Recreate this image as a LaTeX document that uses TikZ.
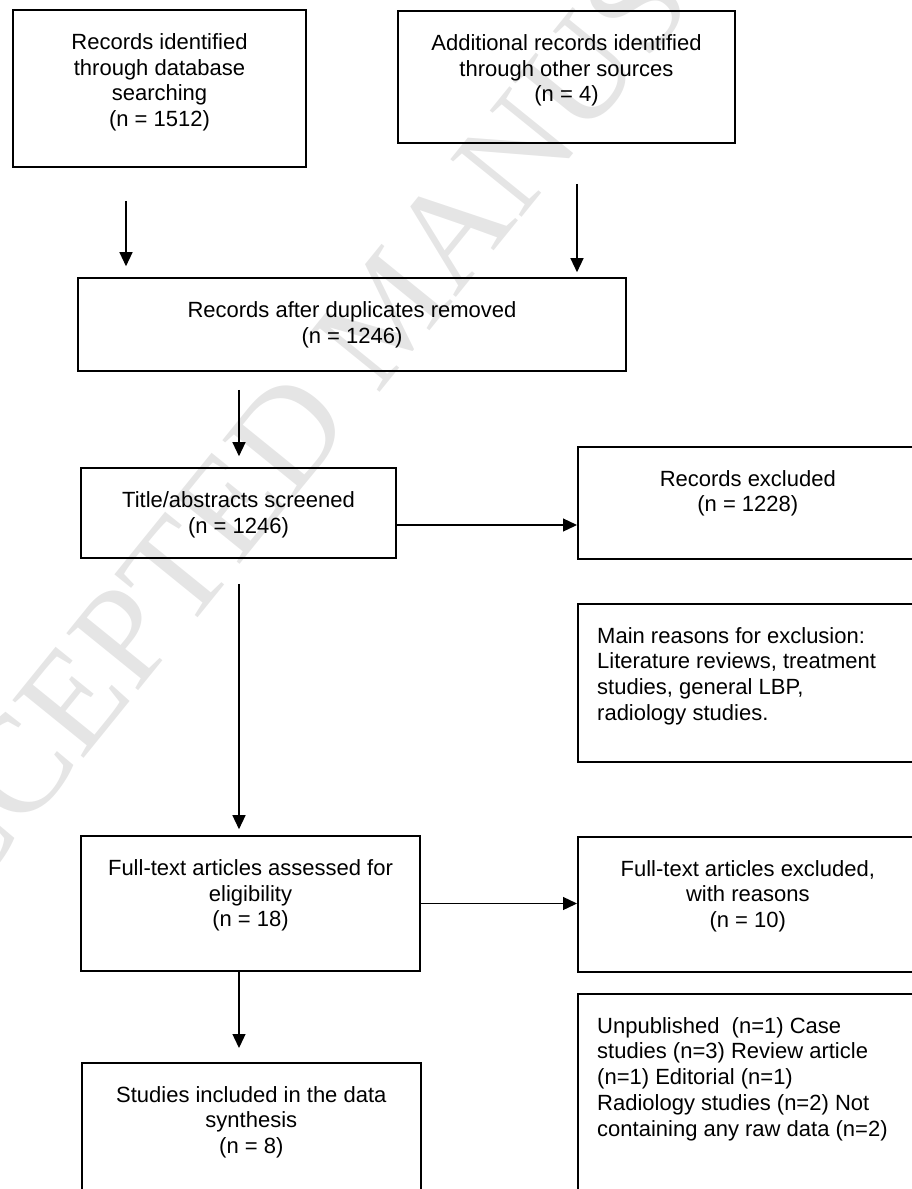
\documentclass[tikz,border=0pt]{standalone}
\usepackage{fontspec}
\setmainfont{Liberation Sans}
\newfontfamily\markfont{Liberation Serif}
\usetikzlibrary{positioning,arrows.meta}

\begin{document}
\begin{tikzpicture}[
		x=1pt, y=-1pt,
		box/.style={
			draw,
			rectangle,
			line width=1.6pt,
			inner sep=0
		},
		txt/.style={anchor=north, align=center, inner sep=0,
			font=\fontsize{22}{25.8}\selectfont
		},
		ltxt/.style={anchor=north west, align=left, inner sep=0,
			font=\fontsize{22}{25.8}\selectfont
		},
		flow/.style={->, line width=1.3pt},
		>={Triangle[length=14pt,width=13pt]}
		]
		\useasboundingbox (0,0) rectangle (912,1189);
		\clip (0,0) rectangle (912,1189);
		% watermark
		\node[font=\markfont\fontsize{140}{140}\selectfont, text=black!10, rotate=51,
			anchor=base west, inner sep=0] (mark) at (-100,985) {ACCEPTED MANUSCRIPT};
		% boxes
		\node[box, minimum width=293, minimum height=157] (ident) at (159.5,88.5) {};
		\node[box, minimum width=337, minimum height=132] (other) at (566.5,77) {};
		\node[box, minimum width=548, minimum height=93] (dupl) at (352,324.5) {};
		\node[box, minimum width=315, minimum height=90] (screen) at (238.5,513) {};
		\node[box, minimum width=340, minimum height=112, anchor=north west] (excl) at (577,446) {};
		\node[box, minimum width=340, minimum height=158, anchor=north west] (reason) at (577,603) {};
		\node[box, minimum width=339, minimum height=135] (full) at (250.5,903.5) {};
		\node[box, minimum width=340, minimum height=135, anchor=north west] (fullexcl) at (577,836) {};
		\node[box, minimum width=339, minimum height=160, anchor=north west] (incl) at (81,1062) {};
		\node[box, minimum width=340, minimum height=220, anchor=north west] (reasontwo) at (577,993) {};
		% texts
		\node[txt] (identtxt) at ([yshift=-24pt]ident.north) {Records identified\\through database\\searching\\(n = 1512)};
		\node[txt] (othertxt) at ([yshift=-24pt]other.north) {Additional records identified\\through other sources\\(n = 4)};
		\node[txt] (dupltxt) at ([yshift=-24pt]dupl.north) {Records after duplicates removed\\(n = 1246)};
		\node[txt] (screentxt) at ([yshift=-24pt]screen.north) {Title/abstracts screened\\(n = 1246)};
		\node[txt] (excltxt) at ([yshift=-24pt]excl.north) {Records excluded\\(n = 1228)};
		\node[ltxt] (reasontxt) at ([xshift=20pt,yshift=-24pt]reason.north west) {Main reasons for exclusion:\\Literature reviews, treatment\\studies, general LBP,\\radiology studies.};
		\node[txt] (fulltxt) at ([yshift=-24pt]full.north) {Full-text articles assessed for\\eligibility\\(n = 18)};
		\node[txt] (fullexcltxt) at ([yshift=-24pt]fullexcl.north) {Full-text articles excluded,\\with reasons\\(n = 10)};
		\node[txt] (incltxt) at ([yshift=-24pt]incl.north) {Studies included in the data\\synthesis\\(n = 8)};
		\node[ltxt] (reasontwotxt) at ([xshift=20pt,yshift=-24pt]reasontwo.north west) {Unpublished\ \ (n=1) Case\\studies (n=3) Review article\\(n=1) Editorial (n=1)\\Radiology studies (n=2) Not\\containing any raw data (n=2)};
		% identification -> duplicates
		\draw[flow, shorten <=33pt, shorten >=11pt] (126,0 |- ident.south) -- (126,0 |- dupl.north);
		\draw[flow, shorten <=40pt, shorten >=5pt] (577,0 |- other.south) -- (577,0 |- dupl.north);
		% duplicates -> screening
		\draw[flow, shorten <=18pt, shorten >=11pt] (239,0 |- dupl.south) -- (239,0 |- screen.north);
		\draw[flow] (screen.east |- 0,525) -- (excl.west |- 0,525);
		% screening -> eligibility
		\draw[flow, shorten <=25pt, shorten >=6pt] (239,0 |- screen.south) -- (239,0 |- full.north);
		\draw[flow] (full.east) -- (fullexcl.west |- full.east);
		% eligibility -> included
		\draw[flow, shorten >=14pt] (239,0 |- full.south) -- (239,0 |- incl.north);
\end{tikzpicture}
\end{document}
